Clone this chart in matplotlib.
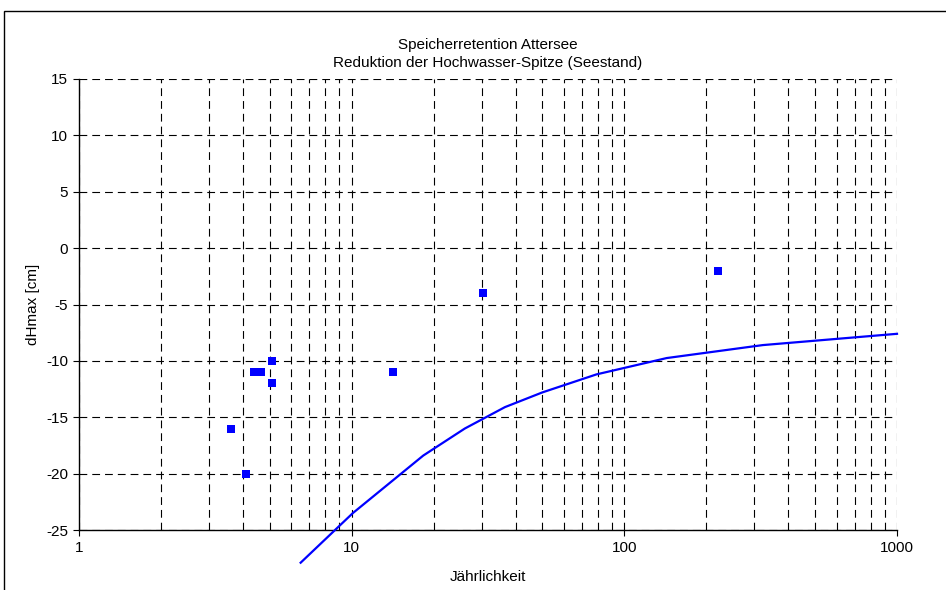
import matplotlib.pyplot as plt
from matplotlib.patches import Rectangle
from matplotlib.ticker import FixedLocator, NullFormatter

plt.rcParams['font.family'] = ['Liberation Sans', 'DejaVu Sans']
plt.rcParams['axes.unicode_minus'] = False

# observed events (return period, dHmax)
obs_T = [3.6, 4.1, 4.4, 4.65, 5.1, 5.1, 14.2, 30.3, 220]
obs_dh = [-16, -20, -11, -11, -10, -12, -11, -4, -2]

# computed reduction curve
curve_T = [6.5, 10.1, 18.3, 26, 36.5, 50, 79, 143, 322, 1000]
curve_dh = [-27.9, -23.5, -18.4, -16.0, -14.1, -12.8, -11.2, -9.75, -8.6, -7.6]

y_ticks = [-25, -20, -15, -10, -5, 0, 5, 10, 15]
x_ticks = [1, 10, 100, 1000]
x_labels = ['1', '10', '100', '1000']

fig = plt.figure(figsize=(9.46, 5.9), dpi=100)
fig.patches.append(Rectangle((4 / 946, -0.1), 1.0, 1.1 - 11 / 590,
                             transform=fig.transFigure, fill=False,
                             edgecolor='black', linewidth=1.0))
ax = fig.add_axes([79 / 946, 1 - 530 / 590, 818 / 946, 451 / 590])

ax.set_xscale('log')
ax.set_xlim(1, 1000)
ax.set_ylim(-25, 15)

minor = [m * 10 ** d for d in range(3) for m in range(2, 10)]
ax.xaxis.set_major_locator(FixedLocator(x_ticks))
ax.xaxis.set_minor_locator(FixedLocator(minor))
ax.xaxis.set_minor_formatter(NullFormatter())
ax.set_xticklabels(x_labels)
ax.set_yticks(y_ticks)

dash = (0, (7, 4.5))
ax.grid(True, which='both', axis='x', color='black', linewidth=0.8, linestyle=dash)
ax.grid(True, which='major', axis='y', color='black', linewidth=0.8, linestyle=dash)
ax.tick_params(axis='x', which='minor', length=0)
ax.tick_params(axis='both', which='major', length=4, width=0.8, labelsize=11, pad=4)

for s in ['top', 'right']:
    ax.spines[s].set_visible(False)
ax.spines['left'].set_linewidth(1.0)
ax.spines['bottom'].set_linewidth(1.0)

ax.plot(curve_T, curve_dh, color='#0000ff', linewidth=1.6, clip_on=False, zorder=3)
ax.plot(obs_T, obs_dh, linestyle='none', marker='s', markersize=5.2,
        color='#0000ff', markeredgewidth=0, zorder=4)

ax.set_title('Speicherretention Attersee\nReduktion der Hochwasser-Spitze (Seestand)',
             fontsize=11, linespacing=1.3, pad=9)
ax.set_xlabel('Jährlichkeit', fontsize=11, labelpad=11)
ax.set_ylabel('dHmax [cm]', fontsize=11, labelpad=4)

fig.savefig('out.png', dpi=100)
